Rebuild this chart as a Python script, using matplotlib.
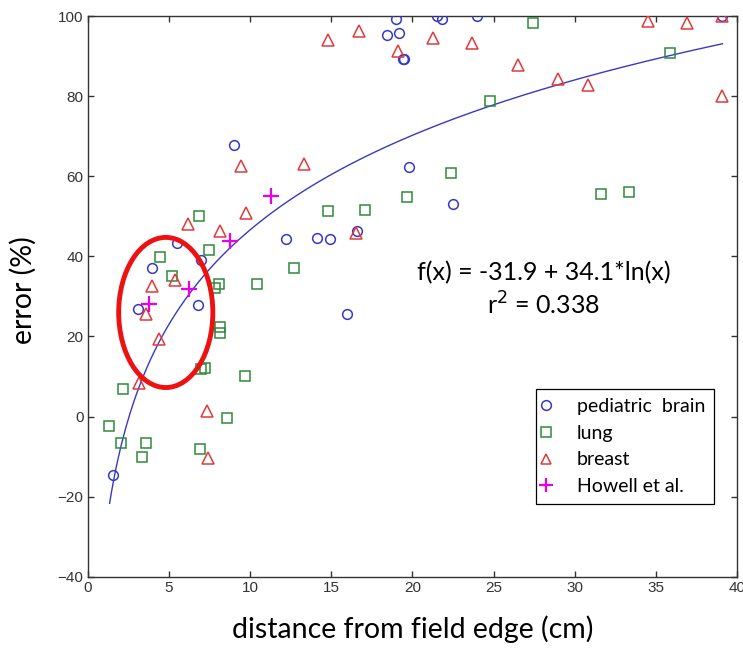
import numpy as np
import matplotlib
matplotlib.use("Agg")
import matplotlib.pyplot as plt
from matplotlib.patches import Ellipse
from matplotlib.lines import Line2D

# pediatric brain (circles)
brain_x = [9.0, 5.53, 6.95, 3.97, 3.1, 6.8, 1.56, 19.0, 21.5, 21.8, 24.0, 18.45,
           19.2, 19.4, 19.5, 19.8, 22.5, 12.2, 14.1, 14.9, 16.6, 16.0, 39.1]
brain_y = [67.75, 43.3, 39.0, 37.1, 26.75, 27.75, -14.5, 99.2, 100.0, 99.4, 100.0, 95.25,
           95.7, 89.4, 89.4, 62.3, 53.2, 44.25, 44.7, 44.4, 46.3, 25.7, 100.0]

# lung (squares)
lung_x = [6.84, 7.46, 4.48, 5.2, 8.08, 7.87, 10.4, 8.14, 8.14, 7.0, 7.25, 9.68, 2.18,
          8.59, 1.31, 2.08, 3.62, 3.35, 6.9, 24.8, 22.4, 19.7, 14.8, 17.1, 12.7,
          27.4, 35.9, 31.6, 33.35]
lung_y = [50.1, 41.7, 39.8, 35.0, 33.0, 32.2, 33.0, 22.3, 20.9, 11.9, 12.2, 10.25, 6.9,
          -0.3, -2.25, -6.6, -6.6, -10.2, -8.1, 78.8, 60.8, 54.8, 51.3, 51.7, 37.1,
          98.4, 90.9, 55.5, 56.1]

# breast (triangles)
breast_x = [9.47, 6.2, 9.78, 8.14, 5.4, 3.97, 3.62, 4.4, 3.14, 7.38, 7.42, 14.8, 16.7,
            21.3, 23.65, 19.1, 26.5, 13.3, 16.5, 34.5, 36.9, 29.0, 30.8, 39.1, 39.1]
breast_y = [62.6, 48.2, 50.9, 46.25, 34.0, 32.6, 25.7, 19.4, 8.3, 1.5, -10.3, 94.0, 96.25,
            94.6, 93.2, 91.25, 87.9, 63.0, 45.8, 98.75, 98.2, 84.4, 82.75, 80.0, 100.0]

# Howell et al. (plus)
howell_x = [11.3, 8.75, 6.23, 3.76]
howell_y = [55.1, 43.8, 31.9, 28.0]

# fit coefficients shown on the chart
fit_a, fit_b = -31.9, 34.1
fit_range = (1.35, 39.1)

blue = "#3838c8"
green = "#2f8a3a"
red = "#e03a3a"
magenta = "#e800e8"

fig = plt.figure(figsize=(7.43, 6.48), dpi=100)
ax = fig.add_axes([0.118, 0.110, 0.874, 0.865])

xf = np.linspace(fit_range[0], fit_range[1], 300)
ax.plot(xf, fit_a + fit_b * np.log(xf), color=blue, lw=1.0, zorder=2)

ax.plot(brain_x, brain_y, "o", ls="none", ms=7, mfc="none", mec=blue, mew=1.1, zorder=3)
ax.plot(lung_x, lung_y, "s", ls="none", ms=7.5, mfc="none", mec=green, mew=1.1, zorder=3)
ax.plot(breast_x, breast_y, "^", ls="none", ms=8, mfc="none", mec=red, mew=1.1, zorder=3)
ax.plot(howell_x, howell_y, "+", ls="none", ms=11, mec=magenta, mew=1.6, zorder=4)

ax.add_patch(Ellipse((4.81, 26.0), 5.8, 37.5, fill=False, ec="#ee1111", lw=3.5, zorder=5))

ax.set_xlim(0, 40)
ax.set_ylim(-40, 100)
ax.set_xticks(range(0, 41, 5))
ax.set_yticks(range(-40, 101, 20))
ax.tick_params(direction="in", top=True, right=True, length=4, width=1,
               colors="#333333", labelsize=11, pad=3)
for lab in ax.get_xticklabels() + ax.get_yticklabels():
    lab.set_family("Liberation Sans")
for s in ax.spines.values():
    s.set_color("#333333")
    s.set_linewidth(1.0)

ax.set_xlabel("distance from field edge (cm)", family="Lato", fontsize=20.5, labelpad=15)
ax.set_ylabel("error (%)", family="Lato", fontsize=20.5)
ax.yaxis.set_label_coords(-0.079, 0.512)

ax.text(28.1, 36.0, "f(x) = -31.9 + 34.1*ln(x)", family="Lato", fontsize=18,
        ha="center", va="center")
ax.text(28.1, 27.75, "r$^2$ = 0.338", family="Lato", fontsize=18,
        ha="center", va="center")

handles = [
    Line2D([], [], marker="o", ls="none", ms=7, mfc="none", mec=blue, mew=1.1),
    Line2D([], [], marker="s", ls="none", ms=7, mfc="none", mec=green, mew=1.1),
    Line2D([], [], marker="^", ls="none", ms=7.5, mfc="none", mec=red, mew=1.1),
    Line2D([], [], marker="+", ls="none", ms=10, mec=magenta, mew=1.6),
]
labels = ["pediatric  brain", "lung", "breast", "Howell et al."]
leg = ax.legend(handles, labels, loc="lower left", bbox_to_anchor=(0.690, 0.130),
                borderaxespad=0, fancybox=False, edgecolor="black", framealpha=1,
                prop={"family": "Lato", "size": 14}, handlelength=0.2,
                handletextpad=1.45, borderpad=0.45, labelspacing=0.5)
leg.get_frame().set_linewidth(0.9)

fig.savefig("out.png", dpi=100)
